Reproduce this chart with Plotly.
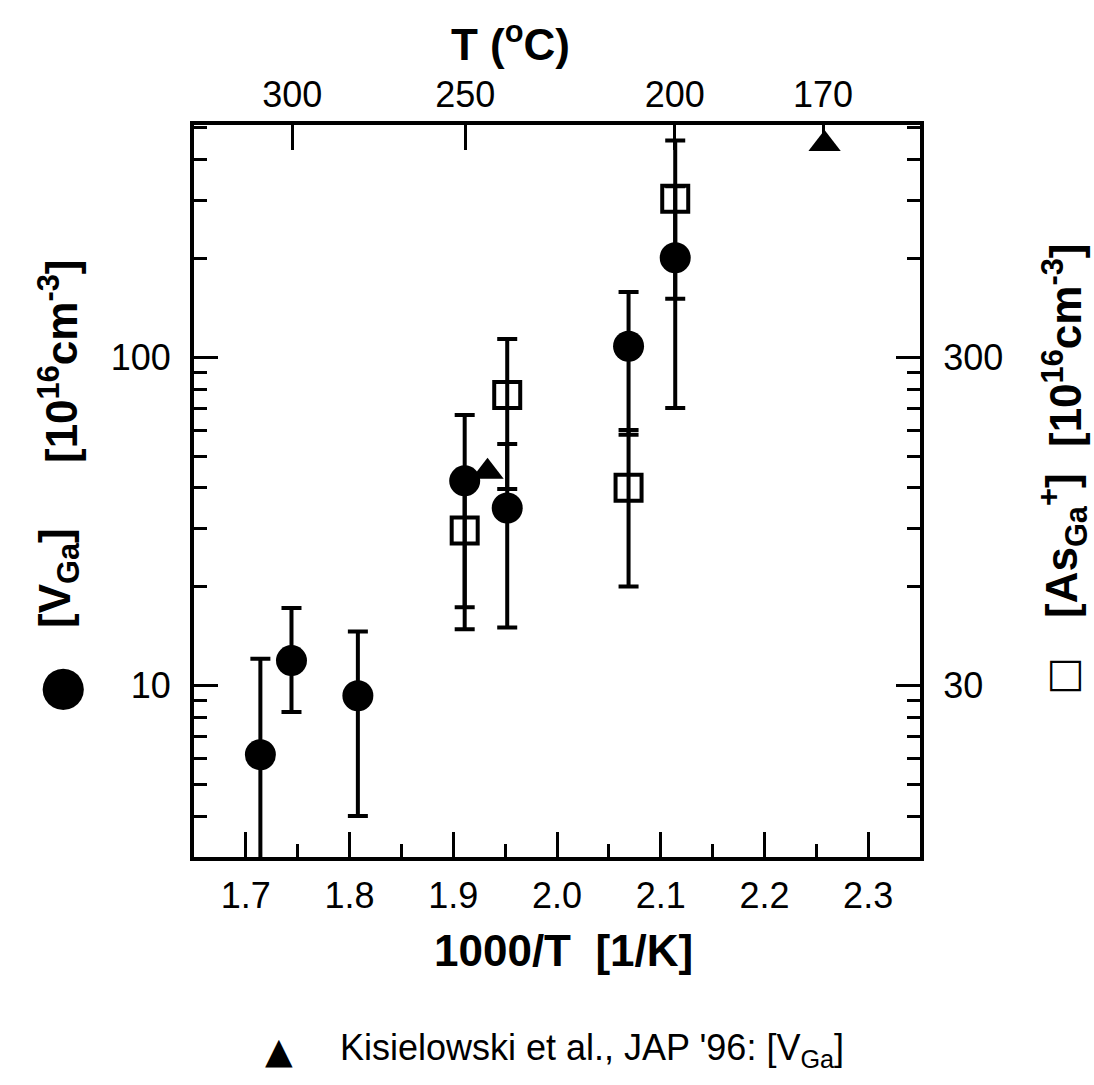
import math
import plotly.graph_objects as go

# ---- data ----
# filled circles: [V_Ga] on left axis (10^16 cm^-3)
x_circ = [1.714, 1.744, 1.808, 1.911, 1.952, 2.069, 2.114]
v_circ = [6.15, 11.9, 9.3, 42.0, 34.7, 108.0, 201.0]
e_circ_plus = [5.9, 5.3, 5.3, 24.7, 19.7, 50.0, 131.0]
e_circ_minus = [5.9, 3.6, 5.3, 24.7, 19.7, 50.0, 131.0]

# open squares: [As_Ga+] on right axis (10^16 cm^-3)
x_sq = [1.911, 1.952, 2.069, 2.114]
v_sq = [89.0, 230.0, 120.0, 912.0]
e_sq = [44.5, 111.0, 60.0, 460.0]

# triangles: Kisielowski et al., JAP '96 [V_Ga] (left axis)
x_tri = [1.933, 2.258]
v_tri = [44.8, 446.0]

# axis ticks
x_major = [1.7, 1.8, 1.9, 2.0, 2.1, 2.2, 2.3]
x_major_labels = ["1.7", "1.8", "1.9", "2.0", "2.1", "2.2", "2.3"]
x_minor = [1.65, 1.75, 1.85, 1.95, 2.05, 2.15, 2.25, 2.35]
top_T_C = [300, 250, 200, 170]
yl_major = [10, 100]
yl_minor = [3, 4, 5, 6, 7, 8, 9, 20, 30, 40, 50, 60, 70, 80, 90, 200, 300, 400, 500]
yr_major = [30, 300]
yr_minor = [9, 12, 15, 18, 21, 24, 27, 60, 90, 120, 150, 180, 210, 240, 270,
            600, 900, 1200, 1500]

X_RANGE = [1.65, 2.35]
YL_RANGE = [3.0, 510.0]
YR_RANGE = [9.0, 1530.0]

FONT = "Liberation Sans, Arial, sans-serif"
BLACK = "black"

# plot-area geometry (px)
L, R, T, B = 194, 920, 125, 857
W_PX, H_PX = 1094, 1085


def px(xp):
    return (xp - L) / (R - L)


def py(yp):
    return (B - yp) / (B - T)


fig = go.Figure()

fig.add_trace(go.Scatter(
    x=x_circ, y=v_circ, mode="markers", xaxis="x", yaxis="y",
    marker=dict(symbol="circle", size=31, color=BLACK),
    error_y=dict(type="data", symmetric=False, array=e_circ_plus,
                 arrayminus=e_circ_minus, thickness=4, width=10, color=BLACK),
    showlegend=False, name="[V_Ga]"))

fig.add_trace(go.Scatter(
    x=x_sq, y=v_sq, mode="markers", xaxis="x", yaxis="y2",
    marker=dict(symbol="square-open", size=26, color=BLACK,
                line=dict(width=4, color=BLACK)),
    error_y=dict(type="data", array=e_sq, thickness=4, width=10, color=BLACK),
    showlegend=False, name="[As_Ga+]"))

fig.add_trace(go.Scatter(
    x=x_tri, y=v_tri, mode="markers", xaxis="x", yaxis="y",
    marker=dict(symbol="triangle-up", size=28, color=BLACK),
    cliponaxis=False, showlegend=False, name="Kisielowski"))

# dummy trace so the top axis subplot exists
fig.add_trace(go.Scatter(x=[], y=[], xaxis="x2", yaxis="y", showlegend=False,
                         hoverinfo="skip"))

tickfont = dict(family=FONT, size=36, color=BLACK)
axline = dict(showline=True, linewidth=4, linecolor=BLACK, showgrid=False,
              zeroline=False, ticks="inside", tickcolor=BLACK, tickwidth=3,
              tickfont=tickfont, mirror=False)
minor_style = dict(tickmode="array", ticklen=13, tickwidth=3, ticks="inside",
                   tickcolor=BLACK, showgrid=False)

fig.update_layout(
    width=W_PX, height=H_PX,
    margin=dict(l=L, r=W_PX - R, t=T, b=H_PX - B),
    paper_bgcolor="white", plot_bgcolor="white",
    xaxis=dict(range=X_RANGE, tickmode="array", tickvals=x_major,
               ticktext=x_major_labels, ticklen=25, anchor="y",
               ticklabelstandoff=4,
               minor=dict(tickvals=x_minor, **minor_style),
               **axline),
    xaxis2=dict(range=X_RANGE, overlaying="x", side="top", anchor="y",
                tickmode="array",
                tickvals=[1000.0 / (t + 273.15) for t in top_T_C],
                ticktext=[str(t) for t in top_T_C], ticklen=25,
                ticklabelstandoff=0,
                **axline),
    yaxis=dict(type="log", range=[math.log10(YL_RANGE[0]), math.log10(YL_RANGE[1])],
               tickmode="array", tickvals=yl_major,
               ticktext=[str(v) for v in yl_major], ticklen=24,
               ticklabelstandoff=12,
               minor=dict(tickvals=yl_minor, **minor_style),
               **axline),
    yaxis2=dict(type="log", range=[math.log10(YR_RANGE[0]), math.log10(YR_RANGE[1])],
                overlaying="y", side="right", anchor="x",
                tickmode="array", tickvals=yr_major,
                ticktext=[str(v) for v in yr_major], ticklen=24,
                ticklabelstandoff=12,
                minor=dict(tickvals=yr_minor, **minor_style),
                **axline),
)

titlefont = dict(family=FONT, size=44, color=BLACK)
annots = [
    # bottom axis title
    dict(text="<b>1000/T\u00a0\u00a0[1/K]</b>", x=px(563), y=py(950),
         font=titlefont),
    # top axis title
    dict(text="<b>T (<sup>o</sup>C)</b>", x=px(510), y=py(42),
         font=titlefont),
    # left axis title pieces
    dict(text="●", x=px(58), y=py(690), textangle=-90,
         font=dict(family="DejaVu Sans", size=54, color=BLACK)),
    dict(text="<b>[V<sub>Ga</sub>]</b>", x=px(58), y=py(578), textangle=-90,
         font=titlefont),
    dict(text="<b>[10<sup>16</sup>cm<sup>-3</sup>]</b>", x=px(58), y=py(361),
         textangle=-90, font=titlefont),
    # right axis title pieces
    dict(text="□", x=px(1062), y=py(676), textangle=-90,
         font=dict(family="DejaVu Sans", size=40, color=BLACK)),
    dict(text="<b>[As<sub>Ga</sub><sup>+</sup>]</b>", x=px(1062), y=py(546),
         textangle=-90, font=titlefont),
    dict(text="<b>[10<sup>16</sup>cm<sup>-3</sup>]</b>", x=px(1062), y=py(345),
         textangle=-90, font=titlefont),
    # legend
    dict(text="▲", x=px(279), y=py(1050),
         font=dict(family="DejaVu Sans", size=36, color=BLACK)),
    dict(text="Kisielowski et al., JAP '96: [V<sub>Ga</sub>]", x=px(338),
         y=py(1050), xanchor="left",
         font=dict(family=FONT, size=36, color=BLACK)),
]
for a in annots:
    a.setdefault("xanchor", "center")
    a.setdefault("yanchor", "middle")
    a.update(xref="paper", yref="paper", showarrow=False)
fig.update_layout(annotations=annots)

fig.write_html("out.html")
